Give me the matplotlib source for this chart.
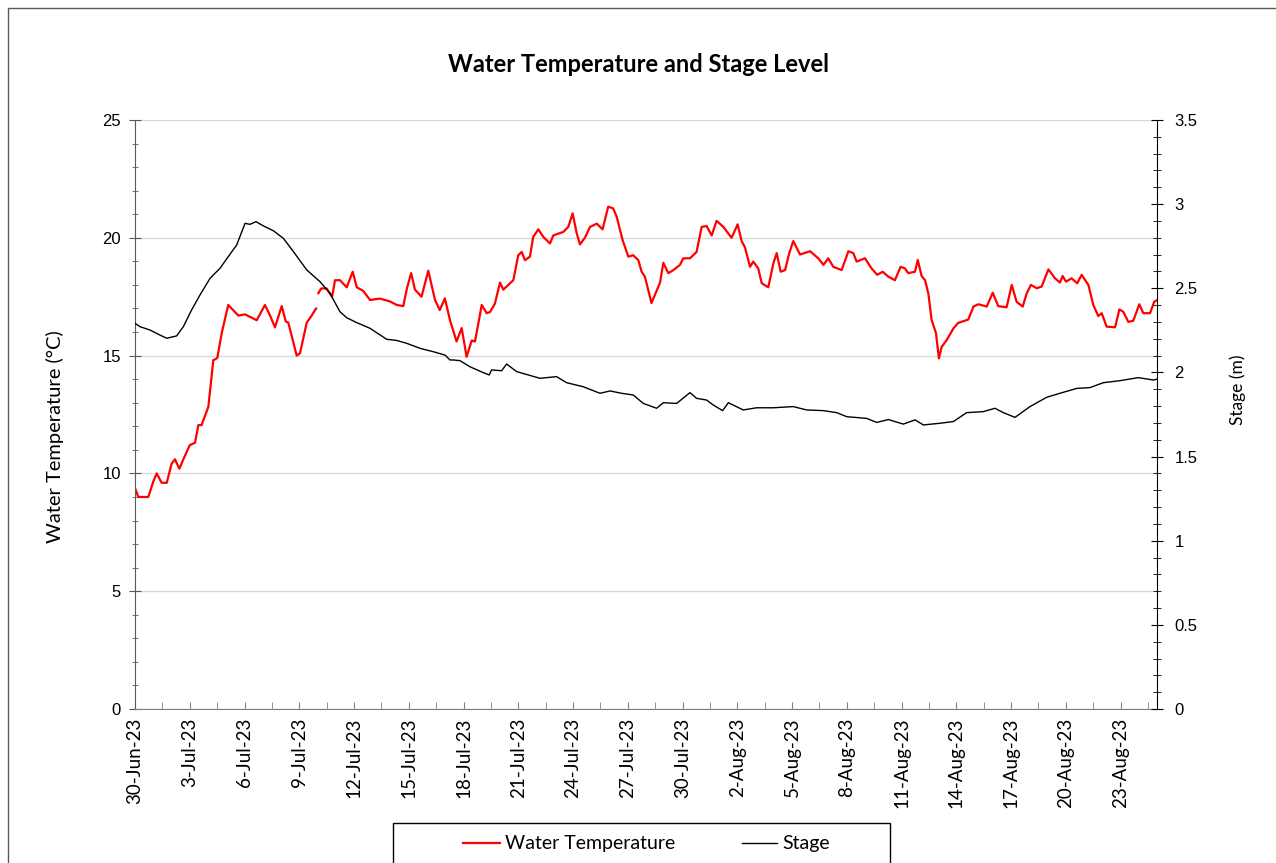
import matplotlib
matplotlib.use('Agg')
import numpy as np
import pandas as pd
import matplotlib.pyplot as plt
from matplotlib.ticker import MultipleLocator, FuncFormatter
from matplotlib.patches import Rectangle
from matplotlib.lines import Line2D

# days after 30-Jun-23 00:00 and readings
temp_days = [0.0, 0.18, 0.73, 1.0, 1.19, 1.46, 1.74, 2.0, 2.19, 2.43, 2.65, 3.0, 3.29, 3.47, 3.65,
             4.02, 4.29, 4.51, 4.75, 5.11, 5.66, 6.03, 6.67, 7.12, 7.4, 7.67, 8.04, 8.26, 8.4,
             8.86, 9.04, 9.41, 9.68, 9.92, 9.98, 10.05, 10.2, 10.5, 10.8, 10.96, 11.23, 11.6,
             11.93, 12.15, 12.5, 12.88, 13.42, 13.97, 14.34, 14.7, 14.9, 15.13, 15.34, 15.7,
             16.07, 16.44, 16.7, 16.98, 17.26, 17.62, 17.9, 18.17, 18.45, 18.63, 19.0, 19.27,
             19.45, 19.72, 20.0, 20.18, 20.73, 21.0, 21.19, 21.37, 21.64, 21.82, 22.1, 22.37,
             22.74, 22.92, 23.47, 23.74, 23.98, 24.2, 24.38, 24.65, 24.93, 25.3, 25.62, 25.93,
             26.2, 26.39, 26.72, 27.03, 27.3, 27.58, 27.76, 27.94, 28.3, 28.77, 28.95, 29.22,
             29.5, 29.86, 30.04, 30.41, 30.77, 31.05, 31.32, 31.6, 31.87, 32.24, 32.69, 33.02,
             33.24, 33.42, 33.7, 33.88, 34.15, 34.34, 34.7, 34.98, 35.16, 35.38, 35.62, 35.85,
             36.07, 36.44, 36.99, 37.44, 37.72, 37.99, 38.26, 38.72, 39.09, 39.36, 39.54, 40.0,
             40.36, 40.67, 40.97, 41.28, 41.64, 41.95, 42.19, 42.37, 42.74, 42.89, 43.1, 43.29,
             43.47, 43.65, 43.89, 44.05, 44.2, 44.47, 44.84, 45.11, 45.66, 45.94, 46.21, 46.67,
             47.0, 47.3, 47.76, 48.04, 48.31, 48.64, 48.86, 49.09, 49.41, 49.68, 50.05, 50.41,
             50.68, 50.83, 51.01, 51.32, 51.63, 51.87, 52.24, 52.51, 52.78, 52.97, 53.24, 53.7,
             53.94, 54.15, 54.43, 54.7, 55.03, 55.25, 55.62, 55.85, 56.0]
temp_vals = [9.38, 9.0, 9.0, 9.65, 10.0, 9.6, 9.6, 10.4, 10.6, 10.2, 10.6, 11.2, 11.3, 12.05, 12.05,
             12.83, 14.8, 14.9, 15.95, 17.15, 16.7, 16.75, 16.5, 17.15, 16.7, 16.2, 17.1, 16.45, 16.4,
             15.0, 15.1, 16.4, 16.7, 17.0, np.nan, 17.65, 17.85, 17.85, 17.5, 18.2, 18.2, 17.9,
             18.56, 17.9, 17.75, 17.36, 17.42, 17.3, 17.15, 17.1, 17.85, 18.5, 17.8, 17.5,
             18.6, 17.36, 16.93, 17.43, 16.5, 15.6, 16.17, 14.95, 15.64, 15.6, 17.15, 16.8,
             16.85, 17.2, 18.1, 17.8, 18.2, 19.26, 19.4, 19.05, 19.2, 20.04, 20.36, 20.04,
             19.76, 20.1, 20.25, 20.46, 21.04, 20.2, 19.72, 20.0, 20.46, 20.6, 20.36, 21.32,
             21.25, 20.9, 19.9, 19.2, 19.26, 19.05, 18.56, 18.35, 17.23, 18.1, 18.94, 18.5,
             18.63, 18.85, 19.13, 19.13, 19.4, 20.46, 20.5, 20.1, 20.72, 20.46, 20.0, 20.57,
             19.86, 19.6, 18.77, 18.99, 18.7, 18.07, 17.9, 18.92, 19.35, 18.56, 18.63, 19.35,
             19.86, 19.29, 19.43, 19.13, 18.85, 19.13, 18.77, 18.63, 19.43, 19.35, 18.99, 19.13,
             18.7, 18.43, 18.56, 18.35, 18.2, 18.77, 18.7, 18.5, 18.56, 19.06, 18.38, 18.2,
             17.64, 16.51, 15.95, 14.88, 15.37, 15.65, 16.15, 16.39, 16.53, 17.08, 17.18, 17.08,
             17.67, 17.1, 17.05, 18.0, 17.28, 17.08, 17.64, 18.0, 17.86, 17.93, 18.66, 18.28,
             18.1, 18.38, 18.14, 18.28, 18.07, 18.43, 18.0, 17.15, 16.68, 16.8, 16.23, 16.2,
             16.96, 16.86, 16.43, 16.48, 17.18, 16.8, 16.8, 17.29, 17.35]

stage_days = [0.0, 0.27, 0.82, 1.37, 1.74, 2.28, 2.65, 3.1, 3.56, 4.11, 4.66, 5.11, 5.57, 6.03,
              6.3, 6.63, 7.03, 7.58, 8.13, 8.68, 9.41, 10.14, 10.68, 11.23, 11.6, 12.15, 12.88,
              13.79, 14.34, 14.89, 15.62, 16.35, 16.99, 17.26, 17.44, 17.81, 18.35, 19.08, 19.41,
              19.54, 20.09, 20.36, 20.91, 21.55, 22.19, 23.1, 23.65, 24.56, 25.48, 26.03, 26.66,
              27.3, 27.85, 28.58, 28.95, 29.68, 30.41, 30.77, 31.32, 31.69, 32.2, 32.51, 33.33,
              34.06, 34.98, 36.07, 36.8, 37.72, 38.45, 39.0, 40.09, 40.64, 41.28, 42.1, 42.74,
              43.2, 44.11, 44.84, 45.57, 46.48, 47.12, 47.58, 48.22, 49.04, 49.95, 50.68, 51.6,
              52.33, 53.06, 53.97, 54.98, 55.8, 56.0]
stage_vals = [2.292, 2.272, 2.252, 2.222, 2.203, 2.217, 2.272, 2.371, 2.46, 2.559, 2.619, 2.688,
              2.757, 2.886, 2.88, 2.896, 2.871, 2.842, 2.797, 2.718, 2.609, 2.539, 2.47, 2.361,
              2.325, 2.296, 2.262, 2.197, 2.19, 2.173, 2.143, 2.123, 2.103, 2.074, 2.074, 2.07,
              2.034, 1.999, 1.985, 2.015, 2.01, 2.05, 2.005, 1.985, 1.965, 1.975, 1.939, 1.915,
              1.876, 1.89, 1.876, 1.866, 1.816, 1.787, 1.82, 1.816, 1.88, 1.846, 1.836, 1.806,
              1.773, 1.82, 1.777, 1.79, 1.79, 1.797, 1.777, 1.773, 1.761, 1.737, 1.727, 1.703,
              1.72, 1.693, 1.718, 1.688, 1.698, 1.708, 1.761, 1.767, 1.787, 1.761, 1.733, 1.797,
              1.852, 1.876, 1.905, 1.91, 1.939, 1.951, 1.969, 1.955, 1.96]

start = pd.Timestamp('2023-06-30')
temp_t = start + pd.to_timedelta(temp_days, unit='D')
stage_t = start + pd.to_timedelta(stage_days, unit='D')

plt.rcParams['font.family'] = ['Lato', 'DejaVu Sans']

W, H = 1276, 863
fig = plt.figure(figsize=(W/100, H/100), dpi=100)
ax = fig.add_axes([135/W, 1-709/H, (1157-135)/W, (709-120)/H])
ax2 = ax.twinx()

ax.plot(temp_t, temp_vals, color='#ff0000', lw=1.6)
ax2.plot(stage_t, stage_vals, color='black', lw=1.0)

ax.set_xlim(start, start + pd.Timedelta(days=56))
ax.set_ylim(0, 25)
ax2.set_ylim(0, 3.5)

ax.yaxis.set_major_locator(MultipleLocator(5))
ax.yaxis.set_minor_locator(MultipleLocator(1))
ax2.yaxis.set_major_locator(MultipleLocator(0.5))
ax2.yaxis.set_minor_locator(MultipleLocator(0.1))
ax2.yaxis.set_major_formatter(FuncFormatter(lambda v, p: f'{v:g}'))

major = [start + pd.Timedelta(days=3*i) for i in range(19)]
ax.set_xticks(major)
ax.set_xticks([start + pd.Timedelta(days=1.5 + 3*i) for i in range(19)], minor=True)
ax.set_xticklabels([f'{d.day}-{d.strftime("%b")}-{d.strftime("%y")}' for d in major],
                   rotation=90, fontsize=13.5)

ax.grid(axis='y', which='major', color='#d9d9d9', lw=1)
ax.set_axisbelow(True)
ax.spines['top'].set_visible(False)
ax2.spines['top'].set_visible(False)
ax.spines['left'].set_color('#595959')
ax.spines['bottom'].set_color('#808080')
ax2.spines['left'].set_visible(False)
ax2.spines['bottom'].set_visible(False)
ax.spines['right'].set_visible(False)
ax2.spines['right'].set_color('black')

ax.tick_params(axis='y', which='major', direction='inout', length=8, color='#595959',
               labelsize=12, pad=6)
ax.tick_params(axis='y', which='minor', direction='inout', length=5, color='#595959')
ax.tick_params(axis='x', which='both', direction='in', length=5, color='#808080', pad=6)
ax2.tick_params(axis='y', which='major', direction='inout', length=9, labelsize=12, pad=8)
ax2.tick_params(axis='y', which='minor', direction='inout', length=6)
for lab in ax.get_yticklabels() + ax2.get_yticklabels():
    lab.set_fontfamily('Liberation Sans')

ax.set_ylabel('Water Temperature (°C)', fontsize=14.5)
ax.yaxis.set_label_coords((64-135)/1022, (709-437)/589)
ax2.set_ylabel('Stage (m)', fontsize=12.5)
ax2.yaxis.set_label_coords((1229-135)/1022, (709-390)/589)

fig.text(0.5, 1-64/H, 'Water Temperature and Stage Level', ha='center', va='center',
         fontsize=17, fontweight='bold')

# legend box drawn like the spreadsheet one
fig.patches.append(Rectangle((393/W, -0.05), (890-393)/W, 0.05 + 1-823/H,
                             transform=fig.transFigure, fill=False, edgecolor='black', lw=1.0))
ly = 1-843/H
fig.lines.append(Line2D([463/W, 500/W], [ly, ly], transform=fig.transFigure,
                        color='#ff0000', lw=1.6))
fig.text(505/W, ly, 'Water Temperature', ha='left', va='center', fontsize=14)
fig.lines.append(Line2D([742/W, 777/W], [ly, ly], transform=fig.transFigure,
                        color='black', lw=1.0))
fig.text(782/W, ly, 'Stage', ha='left', va='center', fontsize=14)

# chart area border
fig.patches.append(Rectangle((8/W, -0.05), 1.1, 1.05 - 8/H, transform=fig.transFigure,
                             fill=False, edgecolor='#595959', lw=1.0))

fig.savefig('out.png', dpi=100)
